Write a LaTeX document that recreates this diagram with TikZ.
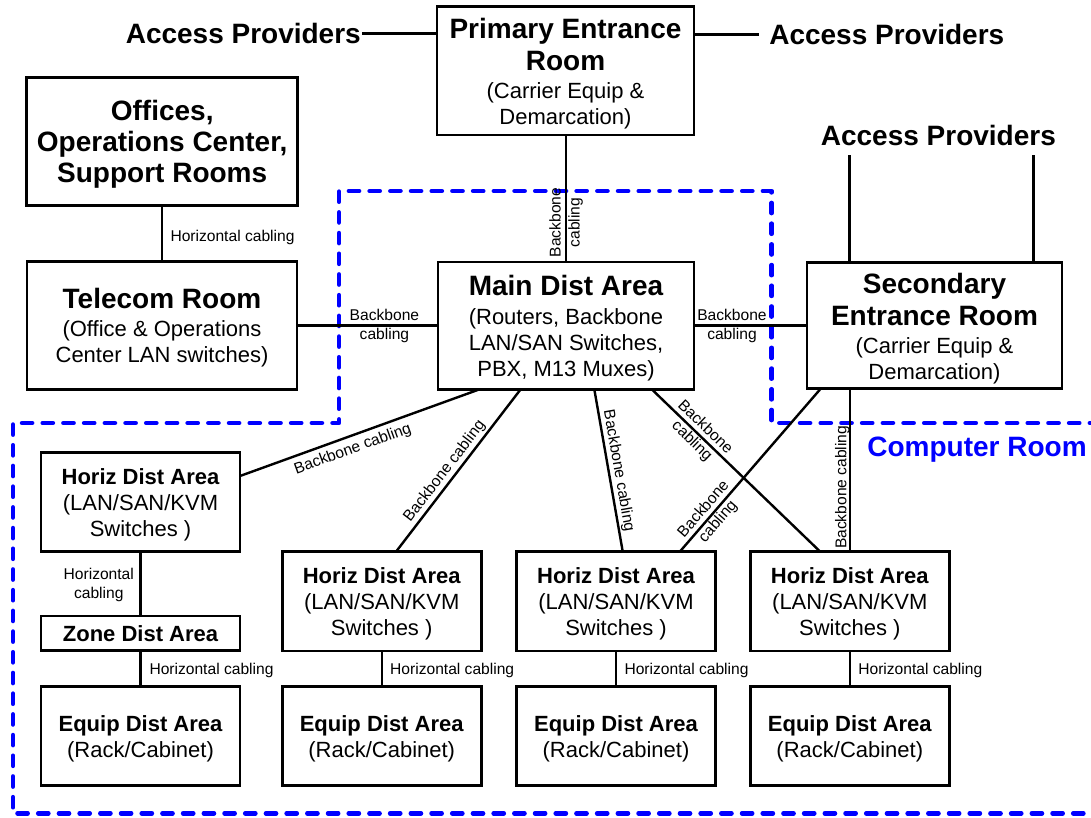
\documentclass[tikz,border=0pt]{standalone}
\usepackage{fontspec}
\setmainfont{Liberation Sans}
\usetikzlibrary{calc}
\definecolor{crblue}{RGB}{0,0,255}
\newcommand\ttl[1]{{\fontsize{28}{31}\selectfont\bfseries #1}}
\newcommand\hdt[1]{{\bfseries #1}}
\newcommand\bigup{\rule{0pt}{26.4pt}}
\newcommand\midup{\rule{0pt}{24.4pt}}
\newcommand\smlup{\rule{0pt}{22pt}}
\begin{document}
\begin{tikzpicture}[x=1pt,y=-1pt,
  box/.style={draw, line width=2.7pt, inner sep=0pt, outer sep=0pt, align=center, font=\fontsize{22}{26}\selectfont},
  smallbox/.style={box, minimum width=199pt, minimum height=99.5pt},
  conn/.style={line width=2.4pt},
  lbl/.style={font=\fontsize{15.6}{19}\selectfont, inner sep=0pt, outer sep=0pt, align=center},
  apl/.style={font=\fontsize{28}{31}\selectfont\bfseries, inner sep=0pt, outer sep=0pt},
  crline/.style={draw=crblue, line width=4.5pt, line cap=round, line join=round, dash pattern=on 10.2pt off 10.5pt}]
\useasboundingbox (0,0) rectangle (1091,817);
\clip (0,0) rectangle (1091,817);

% computer room boundary
\draw[crline] (1100,423) -- (771.7,423) -- (771.7,191) -- (339,191) -- (339,423) -- (13,423) -- (13,813.3) -- (1100,813.3);
\node[font=\fontsize{28}{31}\selectfont\bfseries, text=crblue, inner sep=0pt] (CR) at (977,449.5) {Computer Room};

% boxes
\node[box, minimum width=257pt, minimum height=128.3pt] (PER) at (565.5,70.9)
  {\bigup\ttl{Primary Entrance}\\[6pt]\ttl{Room}\\[2pt](Carrier Equip \&\\Demarcation)};
\node[box, minimum width=271pt, minimum height=128.4pt, font=\fontsize{28}{31}\selectfont\bfseries] (OFF) at (162.2,141.5)
  {\bigup Offices,\\Operations Center,\\Support Rooms};
\node[box, minimum width=270pt, minimum height=127.6pt] (TEL) at (162,325.5)
  {\midup\ttl{Telecom Room}\\[2pt](Office \& Operations\\Center LAN switches)};
\node[box, minimum width=256pt, minimum height=127.3pt] (MDA) at (566,325.6)
  {\midup\ttl{Main Dist Area}\\[3pt](Routers, Backbone\\LAN/SAN Switches,\\PBX, M13 Muxes)};
\node[box, minimum width=255pt, minimum height=125.6pt] (SER) at (934.5,325.5)
  {\bigup\ttl{Secondary}\\[6pt]\ttl{Entrance Room}\\[2pt](Carrier Equip \&\\Demarcation)};

\node[smallbox] (HDA1) at (140.5,502) {\smlup\hdt{Horiz Dist Area}\\(LAN/SAN/KVM\\Switches )};
\node[box, minimum width=199pt, minimum height=34.7pt] (ZDA) at (140.5,633.3) {\hdt{Zone Dist Area}};
\node[smallbox] (EDA1) at (140.5,736) {\smlup\hdt{Equip Dist Area}\\(Rack/Cabinet)};
\node[smallbox] (HDA2) at (381.7,601.2) {\smlup\hdt{Horiz Dist Area}\\(LAN/SAN/KVM\\Switches )};
\node[smallbox] (EDA2) at (381.7,736) {\smlup\hdt{Equip Dist Area}\\(Rack/Cabinet)};
\node[smallbox] (HDA3) at (616,601.2) {\smlup\hdt{Horiz Dist Area}\\(LAN/SAN/KVM\\Switches )};
\node[smallbox] (EDA3) at (616,736) {\smlup\hdt{Equip Dist Area}\\(Rack/Cabinet)};
\node[smallbox] (HDA4) at (849.8,601.2) {\smlup\hdt{Horiz Dist Area}\\(LAN/SAN/KVM\\Switches )};
\node[smallbox] (EDA4) at (849.8,736) {\smlup\hdt{Equip Dist Area}\\(Rack/Cabinet)};

% access providers
\node[apl] (AP1) at (243.3,33.3) {Access Providers};
\node[apl] (AP2) at (886.8,34.5) {Access Providers};
\node[apl] (AP3) at (938.4,135) {Access Providers};
\coordinate (ap3l) at (849.3,155);
\coordinate (ap3r) at (1033.5,155);
\draw[conn] ([xshift=1.5pt]AP1.east) -- (AP1.east -| PER.west);
\draw[conn] (AP2.west -| PER.east) -- ([xshift=-10.5pt]AP2.west);
\draw[conn] (ap3l) -- (ap3l |- SER.north);
\draw[conn] (ap3r) -- (ap3r |- SER.north);

% cabling
\draw[conn] (OFF.south) -- node[lbl, pos=0.56, anchor=west, xshift=8.3pt] {Horizontal cabling} (OFF.south |- TEL.north);
\draw[conn] (PER.south -| MDA.north) -- node[lbl, pos=0.69, rotate=90] {Backbone\\cabling} (MDA.north);
\draw[conn] (TEL.east) -- node[lbl, pos=0.62] {Backbone\\cabling} (TEL.east -| MDA.west);
\draw[conn] (MDA.east) -- node[lbl, pos=0.336] {Backbone\\cabling} (MDA.east -| SER.west);

\draw[conn] ($(MDA.south)+(-86.3,0)$) -- node[lbl, pos=0.548, sloped, below, inner sep=6pt] {Backbone cabling} ($(HDA1.east)+(0,-26)$);
\draw[conn] ($(MDA.south)+(-45.3,0)$) -- node[lbl, pos=0.545, sloped, above, inner sep=3pt] {Backbone cabling} ($(HDA2.north)+(14.5,0)$);
\draw[conn] ($(MDA.south)+(28.3,0)$) -- node[lbl, pos=0.513, sloped, above, inner sep=2.4pt] {Backbone cabling} ($(HDA3.north)+(6.7,0)$);
\draw[conn] ($(MDA.south)+(85.7,0)$) -- node[lbl, pos=0.277, sloped] {Backbone\\cabling} ($(HDA4.north)+(-29.8,0)$);
\draw[conn] ($(SER.south)+(-113.5,0)$) -- node[lbl, pos=0.78, sloped] {Backbone\\cabling} ($(HDA3.north)+(64,0)$);
\draw[conn] (HDA4.north) -- node[lbl, pos=0.393, sloped, above, inner sep=0.3pt] {Backbone cabling} (HDA4.north |- SER.south);

\draw[conn] (HDA1.south) -- node[lbl, pos=0.518, anchor=east, xshift=-6.6pt] {Horizontal\\cabling} (ZDA.north);
\draw[conn] (ZDA.south) -- node[lbl, pos=0.547, anchor=west, xshift=9pt] {Horizontal cabling} (EDA1.north);
\draw[conn] (HDA2.south) -- node[lbl, pos=0.547, anchor=west, xshift=8.5pt] {Horizontal cabling} (EDA2.north);
\draw[conn] (HDA3.south) -- node[lbl, pos=0.547, anchor=west, xshift=8.5pt] {Horizontal cabling} (EDA3.north);
\draw[conn] (HDA4.south) -- node[lbl, pos=0.547, anchor=west, xshift=8.5pt] {Horizontal cabling} (EDA4.north);
\end{tikzpicture}
\end{document}
